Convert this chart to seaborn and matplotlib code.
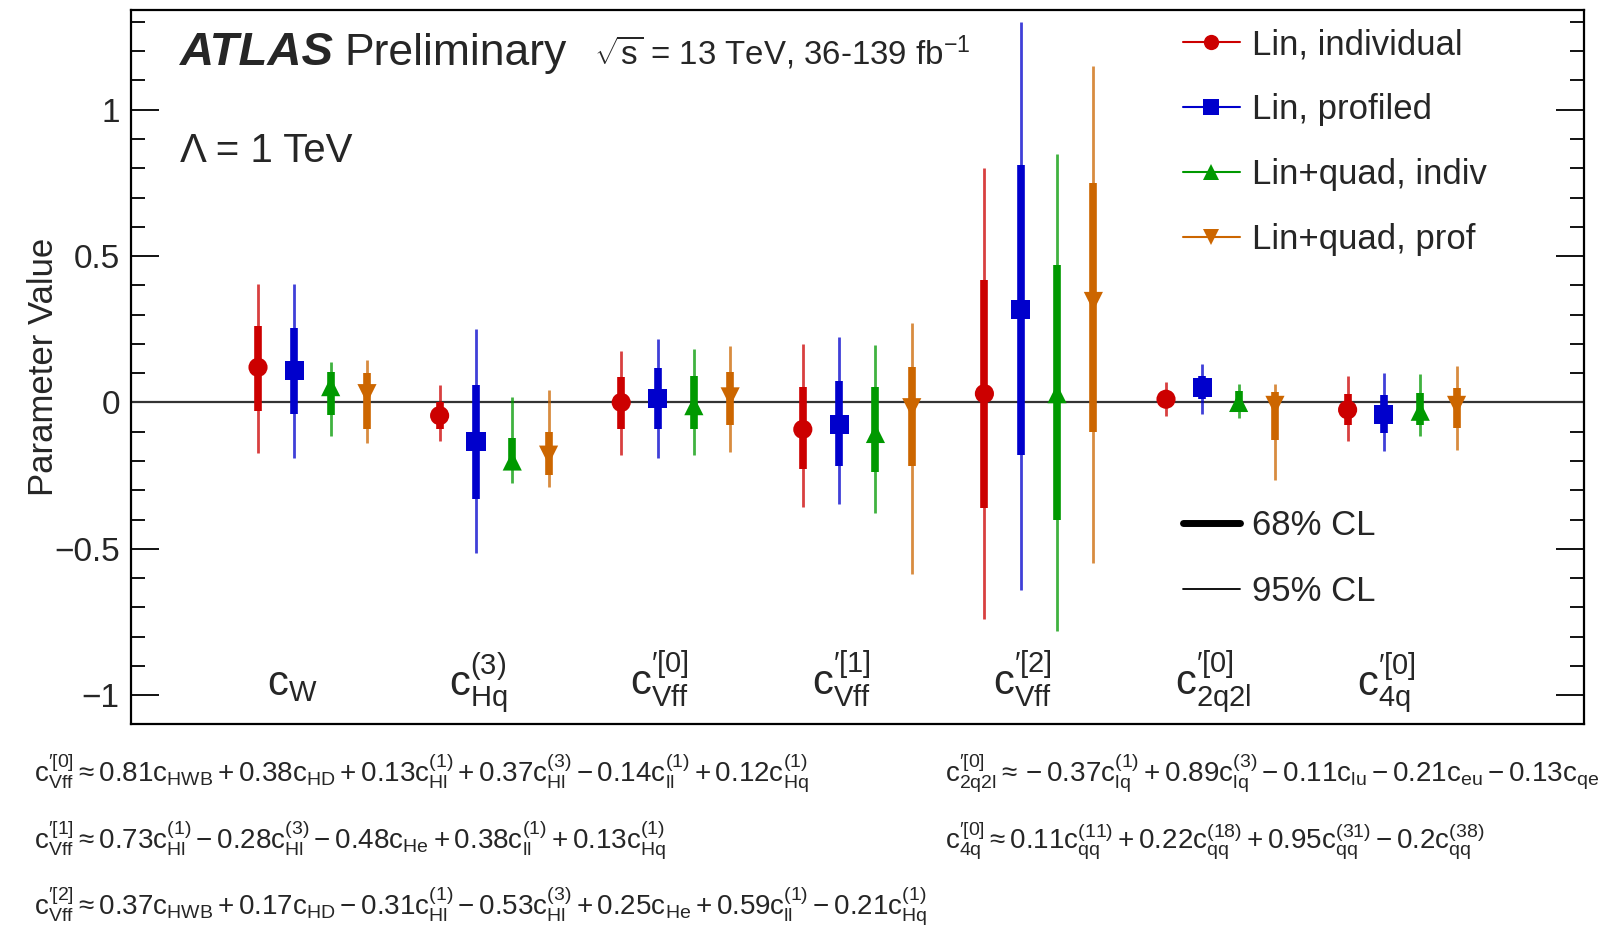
import numpy as np
import pandas as pd
import matplotlib
matplotlib.use("Agg")
import matplotlib.pyplot as plt
from matplotlib.lines import Line2D
import seaborn as sns

# ---------------- data ----------------
groups = ["cW", "cHq3", "cVff0", "cVff1", "cVff2", "c2q2l", "c4q"]
group_labels = [
    r"$\mathrm{c}_{\mathrm{W}}$",
    r"$\mathrm{c}^{(3)}_{\mathrm{Hq}}$",
    r"$\mathrm{c}^{\prime[0]}_{\mathrm{Vff}}$",
    r"$\mathrm{c}^{\prime[1]}_{\mathrm{Vff}}$",
    r"$\mathrm{c}^{\prime[2]}_{\mathrm{Vff}}$",
    r"$\mathrm{c}^{\prime[0]}_{\mathrm{2q2l}}$",
    r"$\mathrm{c}^{\prime[0]}_{\mathrm{4q}}$",
]
series = ["Lin, individual", "Lin, profiled", "Lin+quad, indiv", "Lin+quad, prof"]

lin_ind_val  = [0.12, -0.045, 0.0, -0.092, 0.03, 0.011, -0.025]
lin_ind_lo68 = [-0.03, -0.09, -0.092, -0.228, -0.36, -0.016, -0.078]
lin_ind_hi68 = [0.26, 0.002, 0.088, 0.054, 0.42, 0.035, 0.028]
lin_ind_lo95 = [-0.172, -0.132, -0.18, -0.356, -0.74, -0.047, -0.131]
lin_ind_hi95 = [0.404, 0.059, 0.177, 0.199, 0.80, 0.07, 0.09]

lin_prof_val  = [0.11, -0.134, 0.014, -0.075, 0.317, 0.05, -0.04]
lin_prof_lo68 = [-0.04, -0.33, -0.089, -0.216, -0.18, 0.011, -0.103]
lin_prof_hi68 = [0.256, 0.059, 0.116, 0.074, 0.81, 0.09, 0.025]
lin_prof_lo95 = [-0.189, -0.514, -0.191, -0.347, -0.64, -0.04, -0.166]
lin_prof_hi95 = [0.404, 0.25, 0.216, 0.222, 1.30, 0.133, 0.099]

lq_ind_val  = [0.054, -0.20, -0.011, -0.106, 0.03, 0.0, -0.03]
lq_ind_lo68 = [-0.043, -0.23, -0.092, -0.239, -0.40, -0.016, -0.078]
lq_ind_hi68 = [0.1025, -0.12, 0.091, 0.054, 0.47, 0.04, 0.032]
lq_ind_lo95 = [-0.115, -0.274, -0.18, -0.377, -0.78, -0.052, -0.115]
lq_ind_hi95 = [0.139, 0.017, 0.181, 0.196, 0.85, 0.063, 0.097]

lq_prof_val  = [0.03, -0.18, 0.019, -0.018, 0.345, -0.01, -0.01]
lq_prof_lo68 = [-0.092, -0.248, -0.078, -0.216, -0.10, -0.127, -0.088]
lq_prof_hi68 = [0.10, -0.10, 0.105, 0.122, 0.75, 0.036, 0.05]
lq_prof_lo95 = [-0.14, -0.29, -0.168, -0.585, -0.55, -0.264, -0.162]
lq_prof_hi95 = [0.145, 0.042, 0.192, 0.273, 1.15, 0.063, 0.123]

formulas_left = [
    r"$\mathrm{c}^{\prime[0]}_{\mathrm{Vff}} \approx 0.81\mathrm{c}_{\mathrm{HWB}} + 0.38\mathrm{c}_{\mathrm{HD}} + 0.13\mathrm{c}^{(1)}_{\mathrm{Hl}} + 0.37\mathrm{c}^{(3)}_{\mathrm{Hl}} - 0.14\mathrm{c}^{(1)}_{\mathrm{ll}} + 0.12\mathrm{c}^{(1)}_{\mathrm{Hq}}$",
    r"$\mathrm{c}^{\prime[1]}_{\mathrm{Vff}} \approx 0.73\mathrm{c}^{(1)}_{\mathrm{Hl}} - 0.28\mathrm{c}^{(3)}_{\mathrm{Hl}} - 0.48\mathrm{c}_{\mathrm{He}} + 0.38\mathrm{c}^{(1)}_{\mathrm{ll}} + 0.13\mathrm{c}^{(1)}_{\mathrm{Hq}}$",
    r"$\mathrm{c}^{\prime[2]}_{\mathrm{Vff}} \approx 0.37\mathrm{c}_{\mathrm{HWB}} + 0.17\mathrm{c}_{\mathrm{HD}} - 0.31\mathrm{c}^{(1)}_{\mathrm{Hl}} - 0.53\mathrm{c}^{(3)}_{\mathrm{Hl}} + 0.25\mathrm{c}_{\mathrm{He}} + 0.59\mathrm{c}^{(1)}_{\mathrm{ll}} - 0.21\mathrm{c}^{(1)}_{\mathrm{Hq}}$",
]
formulas_right = [
    r"$\mathrm{c}^{\prime[0]}_{\mathrm{2q2l}} \approx -0.37\mathrm{c}^{(1)}_{\mathrm{lq}} + 0.89\mathrm{c}^{(3)}_{\mathrm{lq}} - 0.11\mathrm{c}_{\mathrm{lu}} - 0.21\mathrm{c}_{\mathrm{eu}} - 0.13\mathrm{c}_{\mathrm{qe}}$",
    r"$\mathrm{c}^{\prime[0]}_{\mathrm{4q}} \approx 0.11\mathrm{c}^{(11)}_{\mathrm{qq}} + 0.22\mathrm{c}^{(18)}_{\mathrm{qq}} + 0.95\mathrm{c}^{(31)}_{\mathrm{qq}} - 0.2\mathrm{c}^{(38)}_{\mathrm{qq}}$",
]

# ---------------- style ----------------
sns.set_theme(style="ticks")
plt.rcParams["font.family"] = ["Liberation Sans", "DejaVu Sans"]
plt.rcParams["mathtext.fontset"] = "custom"
plt.rcParams["mathtext.rm"] = "Liberation Sans"
plt.rcParams["mathtext.it"] = "Liberation Sans:italic"
plt.rcParams["mathtext.bf"] = "Liberation Sans:bold"

colors = ["#cc0000", "#0000cc", "#009900", "#cc6600"]
markers = ["o", "s", "^", "v"]
offsets = [-0.3, -0.1, 0.1, 0.3]

vals = [lin_ind_val, lin_prof_val, lq_ind_val, lq_prof_val]
lo68 = [lin_ind_lo68, lin_prof_lo68, lq_ind_lo68, lq_prof_lo68]
hi68 = [lin_ind_hi68, lin_prof_hi68, lq_ind_hi68, lq_prof_hi68]
lo95 = [lin_ind_lo95, lin_prof_lo95, lq_ind_lo95, lq_prof_lo95]
hi95 = [lin_ind_hi95, lin_prof_hi95, lq_ind_hi95, lq_prof_hi95]

rows = []
for s, name in enumerate(series):
    for g in range(len(groups)):
        rows.append(dict(series=name, group=groups[g], x=g + offsets[s],
                         val=vals[s][g], lo68=lo68[s][g], hi68=hi68[s][g],
                         lo95=lo95[s][g], hi95=hi95[s][g]))
df = pd.DataFrame(rows)

fig = plt.figure(figsize=(16.16, 9.27), dpi=100)
ax = fig.add_axes([0.081, 0.2185, 0.899, 0.7705])

ax.axhline(0, color="#333333", lw=1.6, zorder=1)

for s, name in enumerate(series):
    d = df[df.series == name]
    ax.vlines(d.x, d.lo95, d.hi95, color=colors[s], lw=2.0, alpha=0.75, zorder=2)
    ax.vlines(d.x, d.lo68, d.hi68, color=colors[s], lw=5.5, zorder=3)

sns.scatterplot(data=df, x="x", y="val", hue="series", style="series",
                hue_order=series, style_order=series,
                palette=colors, markers=markers, s=190, linewidth=0,
                legend=False, ax=ax, zorder=4)

ax.set_xlim(-1, 7)
ax.set_ylim(-1.1, 1.34)
ax.set_xticks([])
ax.set_yticks([-1, -0.5, 0, 0.5, 1])
ax.set_yticklabels(["\u22121", "\u22120.5", "0", "0.5", "1"])
ax.set_yticks(np.arange(-1.1, 1.35, 0.1), minor=True)
ax.tick_params(axis="y", which="both", direction="in", left=True, right=True,
               labelsize=24, color="black", width=1.3, pad=8)
ax.tick_params(axis="y", which="major", length=20)
ax.tick_params(axis="y", which="minor", length=10)
ax.set_xlabel("")
ax.set_ylabel("Parameter Value", fontsize=25, labelpad=-4)
for sp in ax.spines.values():
    sp.set_visible(True)
    sp.set_color("black")
    sp.set_linewidth(1.6)

for g, lab in enumerate(group_labels):
    ax.text(g - 0.25, -1.0, lab, fontsize=30, ha="left", va="baseline")

ax.text(0.0337, 0.923, "ATLAS", transform=ax.transAxes, fontsize=34,
        fontweight="bold", fontstyle="italic", va="baseline")
ax.text(0.147, 0.923, "Preliminary", transform=ax.transAxes, fontsize=32,
        va="baseline")
ax.text(0.319, 0.923, r"$\sqrt{\mathrm{s}}$ = 13 TeV, 36-139 fb$^{\mathrm{-1}}$",
        transform=ax.transAxes, fontsize=23.8, va="baseline")
ax.text(0.0337, 0.788, "\u039b = 1 TeV", transform=ax.transAxes, fontsize=29,
        va="baseline")

handles = [Line2D([], [], color=colors[i], marker=markers[i], markersize=11,
                  lw=1.5, markeredgewidth=0) for i in range(4)]
leg1 = ax.legend(handles, series, loc="upper left", bbox_to_anchor=(0.724, 0.975),
                 frameon=False, fontsize=25, handlelength=1.65, handletextpad=0.35,
                 labelspacing=0.92, borderpad=0, borderaxespad=0)
ax.add_artist(leg1)
cl_handles = [Line2D([], [], color="black", lw=5), Line2D([], [], color="black", lw=1.3)]
ax.legend(cl_handles, ["68% CL", "95% CL"], loc="upper left",
          bbox_to_anchor=(0.724, 0.302), frameon=False, fontsize=25,
          handlelength=1.65, handletextpad=0.35, labelspacing=0.95,
          borderpad=0, borderaxespad=0)

yl = [0.157, 0.085, 0.013]
for i, f in enumerate(formulas_left):
    fig.text(0.021, yl[i], f, fontsize=20, va="baseline", ha="left")
for i, f in enumerate(formulas_right):
    fig.text(0.585, yl[i], f, fontsize=20, va="baseline", ha="left")

fig.savefig("out.png", dpi=100)
